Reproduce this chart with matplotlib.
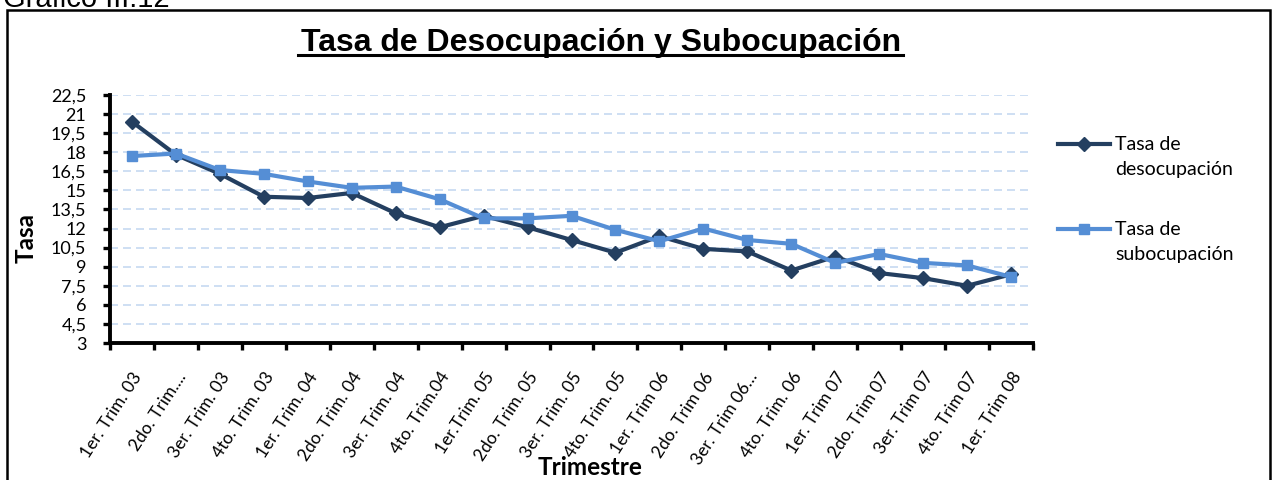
import matplotlib
matplotlib.use("Agg")
import matplotlib.pyplot as plt
from matplotlib.patches import Rectangle
from matplotlib.lines import Line2D
import numpy as np

categories = ["1er. Trim. 03", "2do. Trim....", "3er. Trim. 03", "4to. Trim. 03",
              "1er. Trim. 04", "2do. Trim. 04", "3er. Trim. 04", "4to. Trim.04",
              "1er.Trim. 05", "2do. Trim. 05", "3er. Trim. 05", "4to. Trim. 05",
              "1er. Trim 06", "2do. Trim 06", "3er. Trim 06\u2026", "4to. Trim. 06",
              "1er. Trim 07", "2do. Trim 07", "3er. Trim 07", "4to. Trim 07",
              "1er. Trim 08"]
desocupacion = [20.4, 17.8, 16.3, 14.5, 14.4, 14.8, 13.2, 12.1, 13.0, 12.1, 11.1,
                10.1, 11.4, 10.4, 10.2, 8.7, 9.8, 8.5, 8.1, 7.5, 8.4]
subocupacion = [17.7, 17.9, 16.6, 16.3, 15.7, 15.2, 15.3, 14.3, 12.8, 12.8, 13.0,
                11.9, 11.0, 12.0, 11.1, 10.8, 9.3, 10.0, 9.3, 9.1, 8.2]
yticks = [3, 4.5, 6, 7.5, 9, 10.5, 12, 13.5, 15, 16.5, 18, 19.5, 21, 22.5]
ytick_labels = ["3", "4,5", "6", "7,5", "9", "10,5", "12", "13,5", "15", "16,5",
                "18", "19,5", "21", "22,5"]
series_labels = ["Tasa de\ndesocupación", "Tasa de\nsubocupación"]

DARK = "#243F60"
LIGHT = "#558ED5"

W, H = 1276, 480
fig = plt.figure(figsize=(W / 100, H / 100), dpi=100)
BODY = ["Lato", "DejaVu Sans"]
HEAD = ["Liberation Sans", "DejaVu Sans"]

def fx(px):
    return px / W

def fy(py):
    return 1 - py / H

# outer chart frame
fig.patches.append(Rectangle((fx(7), -0.1), fx(1270 - 7), 1.1 - 10 / H,
                             transform=fig.transFigure, fill=False,
                             edgecolor="black", linewidth=1.8))
fig.text(fx(3), fy(7), "Gráfico III.12", fontsize=21, family=HEAD,
         va="baseline", ha="left")

ax = fig.add_axes([fx(110), fy(343), fx(1033 - 110), (343 - 95) / H])
x = np.arange(len(categories))
ax.plot(x, desocupacion, color=DARK, lw=3, marker="D", ms=7, zorder=3)
ax.plot(x, subocupacion, color=LIGHT, lw=3, marker="s", ms=7, zorder=3)

ax.set_xlim(-0.5, len(categories) - 0.5)
ax.set_ylim(3, 22.5)
ax.set_yticks(yticks)
ax.set_yticklabels(ytick_labels, family=BODY, fontsize=13)
ax.set_xticks(np.arange(len(categories) + 1) - 0.5)
ax.set_xticklabels([])
ax.set_xticks(x, minor=True)
ax.set_xticklabels(categories, minor=True, rotation=57, ha="right",
                   rotation_mode="anchor", family=BODY, fontsize=12.5)
ax.tick_params(axis="x", which="minor", length=0, pad=19)
ax.tick_params(axis="x", which="major", length=5, width=2.4, direction="out")
ax.tick_params(axis="y", length=5, width=2.4, direction="out", pad=12)
for s in ["top", "right"]:
    ax.spines[s].set_visible(False)
for s in ["left", "bottom"]:
    ax.spines[s].set_linewidth(2.8)
ax.yaxis.grid(True, color="#C6D9F1", linestyle=(0, (4.8, 3)), lw=1.2)
ax.set_axisbelow(True)

ax.set_ylabel("Tasa", family=BODY, fontsize=17.5, fontweight="bold")
ax.yaxis.set_label_coords((38 - 110) / (1033 - 110), (343 - 238) / (343 - 95))
ax.set_xlabel("Trimestre", family=BODY, fontsize=17.5, fontweight="bold")
ax.xaxis.set_label_coords((590 - 110) / (1033 - 110), -(475 - 343) / (343 - 95))
ax.xaxis.label.set_va("baseline")

fig.text(fx(601), fy(51), "Tasa de Desocupación y Subocupación",
         family=HEAD, fontsize=23, fontweight="bold", ha="center", va="baseline")
fig.add_artist(Line2D([fx(298), fx(903)], [fy(55), fy(55)],
                      color="black", lw=2.2, transform=fig.transFigure))

# legend (handle aligned with first line of each label, as in the original)
for (ypx, col, mk, lab) in [(144, DARK, "D", series_labels[0]),
                            (229, LIGHT, "s", series_labels[1])]:
    fig.add_artist(Line2D([fx(1058), fx(1110)], [fy(ypx), fy(ypx)], color=col,
                          lw=3, transform=fig.transFigure))
    fig.add_artist(Line2D([fx(1084)], [fy(ypx)], color=col, marker=mk, ms=7,
                          transform=fig.transFigure))
    fig.text(fx(1115), fy(ypx - 8), lab, family=BODY, fontsize=14,
             ha="left", va="top", linespacing=1.6)

fig.savefig("out.png", dpi=100)
